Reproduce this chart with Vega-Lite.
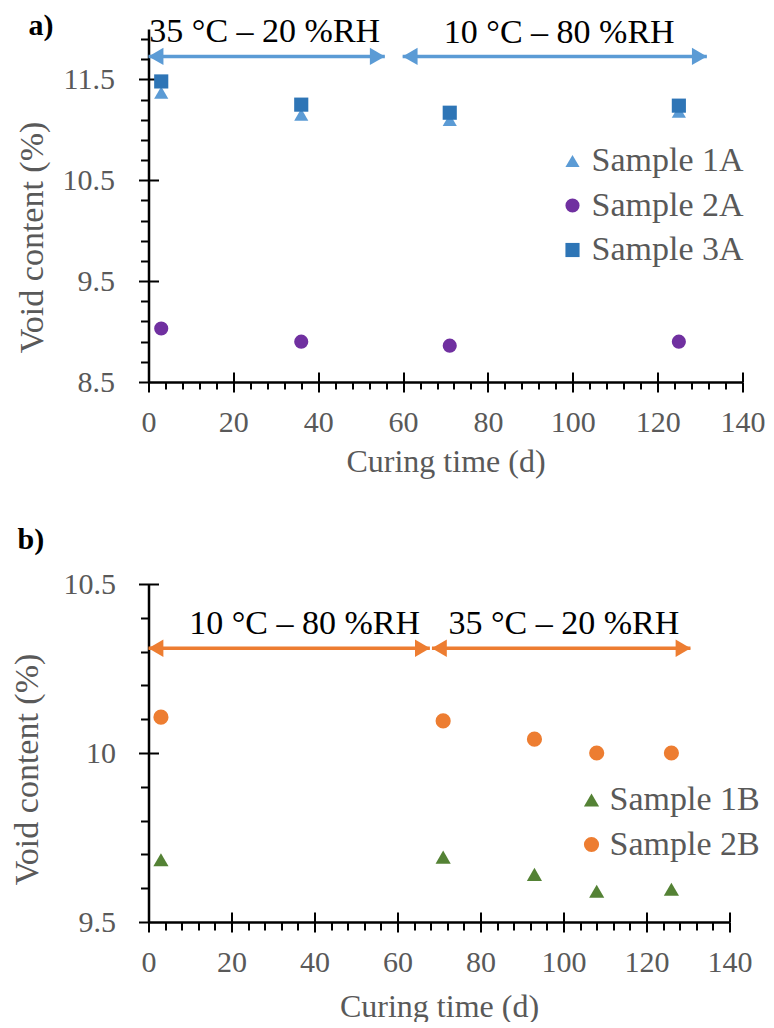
{
  "$schema": "https://vega.github.io/schema/vega-lite/v6.json",
  "padding": {"left": 9.5, "top": 10, "right": 0, "bottom": 0},
  "background": "white",
  "bounds": "flush",
  "spacing": 202,
  "resolve": {"scale": {"color": "independent", "shape": "independent"}, "legend": {"color": "independent", "shape": "independent"}},
  "config": {
    "view": {"stroke": null},
    "axis": {
      "grid": false, "domainColor": "black", "domainWidth": 2.5, "tickColor": "black", "tickWidth": 2,
      "labelFont": "Liberation Serif", "labelFontSize": 30, "labelColor": "#595959",
      "titleFont": "Liberation Serif", "titleFontSize": 32, "titleColor": "#595959", "titleFontWeight": "normal",
      "labelFlush": false, "labelOverlap": false
    },
    "legend": {"labelFont": "Liberation Serif", "labelFontSize": 34, "labelColor": "#595959", "padding": 0},
    "title": {"font": "Liberation Serif", "fontSize": 30, "fontWeight": "bold", "color": "black", "anchor": "start", "frame": "group"}
  },
  "vconcat": [
    {
      "width": 594, "height": 353,
      "title": {"text": "a)", "dx": -120, "dy": 30},
      "resolve": {"axis": {"x": "independent", "y": "independent"}},
      "layer": [
        {
          "data": {"values": [
            {"t": 3, "v": 11.37, "series": "Sample 1A"},
            {"t": 36, "v": 11.15, "series": "Sample 1A"},
            {"t": 71, "v": 11.10, "series": "Sample 1A"},
            {"t": 125, "v": 11.18, "series": "Sample 1A"},
            {"t": 3, "v": 9.03, "series": "Sample 2A"},
            {"t": 36, "v": 8.90, "series": "Sample 2A"},
            {"t": 71, "v": 8.86, "series": "Sample 2A"},
            {"t": 125, "v": 8.90, "series": "Sample 2A"},
            {"t": 3, "v": 11.48, "series": "Sample 3A"},
            {"t": 36, "v": 11.25, "series": "Sample 3A"},
            {"t": 71, "v": 11.17, "series": "Sample 3A"},
            {"t": 125, "v": 11.24, "series": "Sample 3A"}
          ]},
          "mark": {"type": "point", "filled": true, "opacity": 1, "size": 200},
          "encoding": {
            "x": {"field": "t", "type": "quantitative", "scale": {"domain": [0, 140], "nice": false, "zero": false},
              "axis": {"orient": "bottom", "values": [0, 20, 40, 60, 80, 100, 120, 140], "format": "d", "tickSize": 10, "labelPadding": 15, "title": "Curing time (d)", "titlePadding": 9}},
            "y": {"field": "v", "type": "quantitative", "scale": {"domain": [8.5, 12], "nice": false, "zero": false},
              "axis": {"orient": "left", "values": [8.5, 9.5, 10.5, 11.5], "format": ".1f", "tickSize": 10, "labelPadding": 24, "title": "Void content (%)", "titleFontSize": 34, "titleX": -116.5, "titleY": 208, "titleBaseline": "middle", "titleAlign": "center"}},
            "color": {"field": "series", "type": "nominal", "scale": {"domain": ["Sample 1A", "Sample 2A", "Sample 3A"], "range": ["#5B9BD5", "#7030A0", "#2E75B6"]},
              "legend": {"title": null, "orient": "none", "legendX": 407, "legendY": 115, "symbolSize": 200, "rowPadding": 10.5, "labelOffset": 2, "symbolStrokeWidth": 0}},
            "shape": {"field": "series", "type": "nominal", "scale": {"domain": ["Sample 1A", "Sample 2A", "Sample 3A"], "range": ["triangle-up", "circle", "square"]},
              "legend": {"title": null, "orient": "none", "legendX": 407, "legendY": 115, "symbolSize": 200, "rowPadding": 10.5, "labelOffset": 2, "symbolStrokeWidth": 0}}
          }
        },
        {
          "data": {"values": [{"t": 0, "v": 8.5}]},
          "mark": {"type": "point", "opacity": 0},
          "encoding": {
            "x": {"field": "t", "type": "quantitative", "axis": {"orient": "bottom", "values": [4, 8, 12, 16, 24, 28, 32, 36, 44, 48, 52, 56, 64, 68, 72, 76, 84, 88, 92, 96, 104, 108, 112, 116, 124, 128, 132, 136], "tickSize": 7, "labels": false, "domain": false, "title": null}},
            "y": {"field": "v", "type": "quantitative", "axis": null}
          }
        },
        {
          "data": {"values": [{"t": 0, "v": 8.5}]},
          "mark": {"type": "point", "opacity": 0},
          "encoding": {
            "x": {"field": "t", "type": "quantitative", "axis": {"orient": "bottom", "values": [20, 40, 60, 80, 100, 120, 140], "tickSize": -10, "labels": false, "domain": false, "title": null}},
            "y": {"field": "v", "type": "quantitative", "axis": null}
          }
        },
        {
          "data": {"values": [{"t": 0, "v": 8.5}]},
          "mark": {"type": "point", "opacity": 0},
          "encoding": {
            "x": {"field": "t", "type": "quantitative", "axis": null},
            "y": {"field": "v", "type": "quantitative", "axis": {"orient": "left", "values": [8.7, 8.9, 9.1, 9.3, 9.7, 9.9, 10.1, 10.3, 10.7, 10.9, 11.1, 11.3, 11.7, 11.9], "tickSize": 8, "labels": false, "domain": false, "title": null}}
          }
        },
        {
          "data": {"values": [{"t": 0, "v": 8.5}]},
          "mark": {"type": "point", "opacity": 0},
          "encoding": {
            "x": {"field": "t", "type": "quantitative", "axis": null},
            "y": {"field": "v", "type": "quantitative", "axis": {"orient": "left", "values": [9.5, 10.5, 11.5], "tickSize": -10, "labels": false, "domain": false, "title": null}}
          }
        },
        {
          "data": {"values": [
            {"x1": 0, "x2": 55.7, "y": 11.728},
            {"x1": 59.9, "x2": 131.6, "y": 11.728}
          ]},
          "mark": {"type": "rule", "color": "#5B9BD5", "strokeWidth": 3.5},
          "encoding": {
            "x": {"field": "x1", "type": "quantitative", "axis": null},
            "x2": {"field": "x2"},
            "y": {"field": "y", "type": "quantitative", "axis": null}
          }
        },
        {
          "data": {"values": [{"x": 1.75, "y": 11.728}, {"x": 61.65, "y": 11.728}]},
          "mark": {"type": "point", "shape": "triangle-left", "filled": true, "color": "#5B9BD5", "opacity": 1, "size": 300},
          "encoding": {
            "x": {"field": "x", "type": "quantitative", "axis": null},
            "y": {"field": "y", "type": "quantitative", "axis": null}
          }
        },
        {
          "data": {"values": [{"x": 53.95, "y": 11.728}, {"x": 129.85, "y": 11.728}]},
          "mark": {"type": "point", "shape": "triangle-right", "filled": true, "color": "#5B9BD5", "opacity": 1, "size": 300},
          "encoding": {
            "x": {"field": "x", "type": "quantitative", "axis": null},
            "y": {"field": "y", "type": "quantitative", "axis": null}
          }
        },
        {
          "data": {"values": [
            {"x": 27.4, "y": 11.876, "label": "35 °C – 20 %RH"},
            {"x": 96.8, "y": 11.866, "label": "10 °C – 80 %RH"}
          ]},
          "mark": {"type": "text", "font": "Liberation Serif", "fontSize": 34, "color": "black", "baseline": "alphabetic", "align": "center"},
          "encoding": {
            "x": {"field": "x", "type": "quantitative", "axis": null},
            "y": {"field": "y", "type": "quantitative", "axis": null},
            "text": {"field": "label"}
          }
        }
      ]
    },
    {
      "width": 581, "height": 338,
      "title": {"text": "b)", "dx": -131, "dy": -10},
      "resolve": {"axis": {"x": "independent", "y": "independent"}},
      "layer": [
        {
          "data": {"values": [
            {"t": 3, "v": 9.684, "series": "Sample 1B"},
            {"t": 71, "v": 9.692, "series": "Sample 1B"},
            {"t": 93, "v": 9.641, "series": "Sample 1B"},
            {"t": 108, "v": 9.591, "series": "Sample 1B"},
            {"t": 126, "v": 9.597, "series": "Sample 1B"},
            {"t": 3, "v": 10.106, "series": "Sample 2B"},
            {"t": 71, "v": 10.095, "series": "Sample 2B"},
            {"t": 93, "v": 10.041, "series": "Sample 2B"},
            {"t": 108, "v": 10.0, "series": "Sample 2B"},
            {"t": 126, "v": 10.0, "series": "Sample 2B"}
          ]},
          "mark": {"type": "point", "filled": true, "opacity": 1, "size": 230},
          "encoding": {
            "x": {"field": "t", "type": "quantitative", "scale": {"domain": [0, 140], "nice": false, "zero": false},
              "axis": {"orient": "bottom", "values": [0, 20, 40, 60, 80, 100, 120, 140], "format": "d", "tickSize": 10, "labelPadding": 15, "title": "Curing time (d)", "titlePadding": 14}},
            "y": {"field": "v", "type": "quantitative", "scale": {"domain": [9.5, 10.5], "nice": false, "zero": false},
              "axis": {"orient": "left", "values": [9.5, 10, 10.5], "labelExpr": "datum.value == 10 ? '10' : format(datum.value, '.1f')", "tickSize": 10, "labelPadding": 23, "title": "Void content (%)", "titleFontSize": 34, "titleX": -121, "titleY": 185, "titleBaseline": "middle", "titleAlign": "center"}},
            "color": {"field": "series", "type": "nominal", "scale": {"domain": ["Sample 1B", "Sample 2B"], "range": ["#548235", "#ED7D31"]},
              "legend": {"title": null, "orient": "none", "legendX": 426, "legendY": 199, "symbolSize": 230, "rowPadding": 10.5, "labelOffset": 1, "symbolStrokeWidth": 0}},
            "shape": {"field": "series", "type": "nominal", "scale": {"domain": ["Sample 1B", "Sample 2B"], "range": ["triangle-up", "circle"]},
              "legend": {"title": null, "orient": "none", "legendX": 426, "legendY": 199, "symbolSize": 230, "rowPadding": 10.5, "labelOffset": 1, "symbolStrokeWidth": 0}}
          }
        },
        {
          "data": {"values": [{"t": 0, "v": 9.5}]},
          "mark": {"type": "point", "opacity": 0},
          "encoding": {
            "x": {"field": "t", "type": "quantitative", "axis": {"orient": "bottom", "values": [4, 8, 12, 16, 24, 28, 32, 36, 44, 48, 52, 56, 64, 68, 72, 76, 84, 88, 92, 96, 104, 108, 112, 116, 124, 128, 132, 136], "tickSize": 8, "labels": false, "domain": false, "title": null}},
            "y": {"field": "v", "type": "quantitative", "axis": null}
          }
        },
        {
          "data": {"values": [{"t": 0, "v": 9.5}]},
          "mark": {"type": "point", "opacity": 0},
          "encoding": {
            "x": {"field": "t", "type": "quantitative", "axis": {"orient": "bottom", "values": [20, 40, 60, 80, 100, 120, 140], "tickSize": -10, "labels": false, "domain": false, "title": null}},
            "y": {"field": "v", "type": "quantitative", "axis": null}
          }
        },
        {
          "data": {"values": [{"t": 0, "v": 9.5}]},
          "mark": {"type": "point", "opacity": 0},
          "encoding": {
            "x": {"field": "t", "type": "quantitative", "axis": null},
            "y": {"field": "v", "type": "quantitative", "axis": {"orient": "left", "values": [9.6, 9.7, 9.8, 9.9, 10.1, 10.2, 10.3, 10.4], "tickSize": 8, "labels": false, "domain": false, "title": null}}
          }
        },
        {
          "data": {"values": [{"t": 0, "v": 9.5}]},
          "mark": {"type": "point", "opacity": 0},
          "encoding": {
            "x": {"field": "t", "type": "quantitative", "axis": null},
            "y": {"field": "v", "type": "quantitative", "axis": {"orient": "left", "values": [10, 10.5], "tickSize": -10, "labels": false, "domain": false, "title": null}}
          }
        },
        {
          "data": {"values": [
            {"x1": 0, "x2": 67.8, "y": 10.31},
            {"x1": 68.3, "x2": 130.6, "y": 10.31}
          ]},
          "mark": {"type": "rule", "color": "#ED7D31", "strokeWidth": 3.5},
          "encoding": {
            "x": {"field": "x1", "type": "quantitative", "axis": null},
            "x2": {"field": "x2"},
            "y": {"field": "y", "type": "quantitative", "axis": null}
          }
        },
        {
          "data": {"values": [{"x": 1.78, "y": 10.31}, {"x": 70.08, "y": 10.31}]},
          "mark": {"type": "point", "shape": "triangle-left", "filled": true, "color": "#ED7D31", "opacity": 1, "size": 300},
          "encoding": {
            "x": {"field": "x", "type": "quantitative", "axis": null},
            "y": {"field": "y", "type": "quantitative", "axis": null}
          }
        },
        {
          "data": {"values": [{"x": 66.02, "y": 10.31}, {"x": 128.82, "y": 10.31}]},
          "mark": {"type": "point", "shape": "triangle-right", "filled": true, "color": "#ED7D31", "opacity": 1, "size": 300},
          "encoding": {
            "x": {"field": "x", "type": "quantitative", "axis": null},
            "y": {"field": "y", "type": "quantitative", "axis": null}
          }
        },
        {
          "data": {"values": [
            {"x": 37.6, "y": 10.351, "label": "10 °C – 80 %RH"},
            {"x": 100.1, "y": 10.351, "label": "35 °C – 20 %RH"}
          ]},
          "mark": {"type": "text", "font": "Liberation Serif", "fontSize": 34, "color": "black", "baseline": "alphabetic", "align": "center"},
          "encoding": {
            "x": {"field": "x", "type": "quantitative", "axis": null},
            "y": {"field": "y", "type": "quantitative", "axis": null},
            "text": {"field": "label"}
          }
        }
      ]
    }
  ]
}
